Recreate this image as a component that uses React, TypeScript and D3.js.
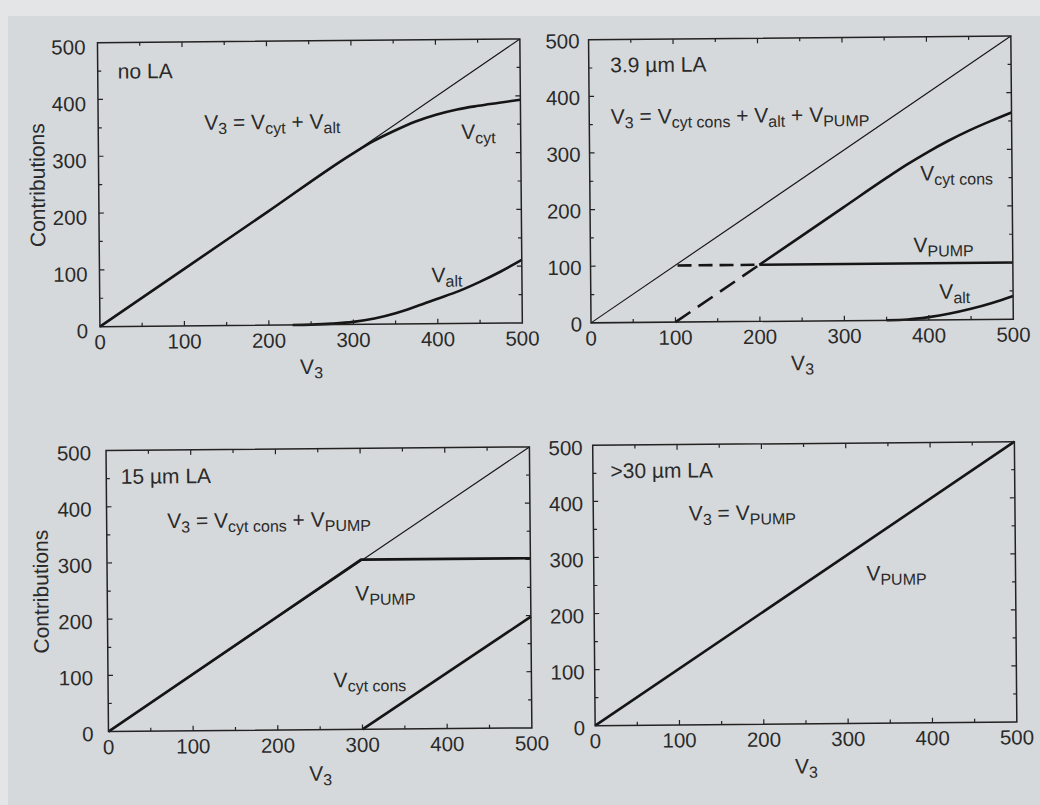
import React from 'react';
import * as d3 from 'd3';

// ---------- data ----------
const DOMAIN: [number, number] = [0, 500];
const MAJOR_TICKS = [0, 100, 200, 300, 400, 500];
const MINOR_TICKS = [50, 150, 250, 350, 450];

// identity reference line V3 = V3 (thin)
const IDENTITY_X = [0, 500];
const IDENTITY_Y = [0, 500];

// Panel A : no LA
const A_VCYT_X = [0, 100, 200, 300, 325, 350, 375, 400, 425, 450, 475, 500];
const A_VCYT_Y = [0, 100, 200, 300, 322, 340, 356, 368, 377, 383, 388, 393];
const A_VALT_X = [228, 250, 275, 300, 325, 350, 375, 400, 425, 450, 475, 500];
const A_VALT_Y = [0, 0.4, 1.8, 4.5, 10, 19, 31, 44, 57, 73, 91, 111];

// Panel B : 3.9 µm LA
const B_VCYT_X = [200, 300, 350, 375, 400, 425, 450, 475, 500];
const B_VCYT_Y = [100, 200, 250, 274, 296, 316, 334, 350, 365];
const B_VPUMP_X = [200, 500];
const B_VPUMP_Y = [100, 100];
const B_DASH_H_X = [103, 200];
const B_DASH_H_Y = [100, 100];
const B_DASH_D_X = [100, 200];
const B_DASH_D_Y = [0, 100];
const B_VALT_X = [350, 375, 400, 425, 450, 475, 500];
const B_VALT_Y = [0, 1, 5, 11, 19, 29, 41];

// Panel C : 15 µm LA
const C_VPUMP_X = [0, 300, 500];
const C_VPUMP_Y = [0, 302, 302];
const C_VCYT_X = [300, 500];
const C_VCYT_Y = [0, 198];

// Panel D : >30 µm LA
const D_VPUMP_X = [0, 500];
const D_VPUMP_Y = [0, 500];

// ---------- styling / layout ----------
const FONT = '"Liberation Sans", Arial, Helvetica, sans-serif';
const TEXT_COLOR = '#2a2a2a';
const LINE_COLOR = '#151515';
const THICK = 2.6;
const THIN = 1.15;
const MAIN_SIZE = 21;
const SUB_SIZE = 16;
const TICK_SIZE = 20.5;

type Series = { x: number[]; y: number[]; w: number; dash?: string; smooth?: boolean };
type Note = { s: string; dx: number; dy: number };
type PanelDef = {
  left: number; right: number; top: number; bottom: number;
  yGap: number; yLabelShift: number; xLabelDy: number;
  showYTitle: boolean; yTitleDx: number;
  series: Series[]; notes: Note[];
};

const PANELS: PanelDef[] = [
  {
    left: 100.6, right: 523, top: 39, bottom: 323, yGap: 12, yLabelShift: 11.5, xLabelDy: 49,
    showYTitle: true, yTitleDx: -54,
    series: [
      { x: IDENTITY_X, y: IDENTITY_Y, w: THIN },
      { x: A_VCYT_X, y: A_VCYT_Y, w: THICK, smooth: true },
      { x: A_VALT_X, y: A_VALT_Y, w: THICK, smooth: true },
    ],
    notes: [
      { s: 'no LA', dx: 20, dy: 36 },
      { s: 'V_{3} = V_{cyt} + V_{alt}', dx: 106, dy: 88 },
      { s: 'V_{cyt}', dx: 363, dy: 99.5 },
      { s: 'V_{alt}', dx: 332, dy: 242.5 },
    ],
  },
  {
    left: 591.7, right: 1014, top: 40.3, bottom: 323.5, yGap: 9, yLabelShift: 8.5, xLabelDy: 49,
    showYTitle: false, yTitleDx: 0,
    series: [
      { x: IDENTITY_X, y: IDENTITY_Y, w: THIN },
      { x: B_VCYT_X, y: B_VCYT_Y, w: THICK, smooth: true },
      { x: B_VPUMP_X, y: B_VPUMP_Y, w: THICK },
      { x: B_DASH_H_X, y: B_DASH_H_Y, w: THICK, dash: '14,7' },
      { x: B_DASH_D_X, y: B_DASH_D_Y, w: THICK, dash: '18,9' },
      { x: B_VALT_X, y: B_VALT_Y, w: THICK, smooth: true },
    ],
    notes: [
      { s: '3.9 µm LA', dx: 21.5, dy: 32.8 },
      { s: 'V_{3} = V_{cyt cons} + V_{alt} + V_{PUMP}', dx: 21.5, dy: 84.3 },
      { s: 'V_{cyt cons}', dx: 330.5, dy: 143.7 },
      { s: 'V_{PUMP}', dx: 323, dy: 215.3 },
      { s: 'V_{alt}', dx: 348.5, dy: 262.2 },
    ],
  },
  {
    left: 105.6, right: 529, top: 447, bottom: 728, yGap: 15, yLabelShift: 9.5, xLabelDy: 51,
    showYTitle: true, yTitleDx: -59,
    series: [
      { x: IDENTITY_X, y: IDENTITY_Y, w: THIN },
      { x: C_VPUMP_X, y: C_VPUMP_Y, w: THICK },
      { x: C_VCYT_X, y: C_VCYT_Y, w: THICK },
    ],
    notes: [
      { s: '15 µm LA', dx: 14.5, dy: 33.3 },
      { s: 'V_{3} = V_{cyt cons} + V_{PUMP}', dx: 60.5, dy: 78 },
      { s: 'V_{PUMP}', dx: 248, dy: 152 },
      { s: 'V_{cyt cons}', dx: 225.5, dy: 238.6 },
    ],
  },
  {
    left: 592.3, right: 1014, top: 446, bottom: 726.3, yGap: 10, yLabelShift: 9.5, xLabelDy: 49.5,
    showYTitle: false, yTitleDx: 0,
    series: [
      { x: D_VPUMP_X, y: D_VPUMP_Y, w: THICK },
    ],
    notes: [
      { s: '>30 µm LA', dx: 17.5, dy: 33 },
      { s: 'V_{3} = V_{PUMP}', dx: 95.5, dy: 76 },
      { s: 'V_{PUMP}', dx: 272.5, dy: 137.5 },
    ],
  },
];

// ---------- rich text with subscripts ----------
type Seg = { text: string; sub: boolean };
function parse(s: string): Seg[] {
  const out: Seg[] = [];
  const re = /_\{([^}]*)\}/g;
  let last = 0;
  let m: RegExpExecArray | null;
  while ((m = re.exec(s))) {
    if (m.index > last) out.push({ text: s.slice(last, m.index), sub: false });
    out.push({ text: m[1], sub: true });
    last = re.lastIndex;
  }
  if (last < s.length) out.push({ text: s.slice(last), sub: false });
  return out;
}

function RichText(props: {
  x: number; y: number; s: string; size?: number; subSize?: number; shift?: number;
  anchor?: string; transform?: string;
}) {
  const { x, y, s, size = MAIN_SIZE, subSize = SUB_SIZE, shift = 4.5, anchor = 'start', transform } = props;
  const segs = parse(s);
  let cur = 0;
  return (
    <text x={x} y={y} fontSize={size} textAnchor={anchor} transform={transform}
      fill={TEXT_COLOR} style={{ whiteSpace: 'pre' }}>
      {segs.map((sg, i) => {
        const dy = (sg.sub ? shift : 0) - cur;
        cur = sg.sub ? shift : 0;
        return (
          <tspan key={i} dy={dy} fontSize={sg.sub ? subSize : size}>{sg.text}</tspan>
        );
      })}
    </text>
  );
}

function Panel({ p }: { p: PanelDef }) {
  const xs = d3.scaleLinear().domain(DOMAIN).range([p.left, p.right]);
  const ys = d3.scaleLinear().domain(DOMAIN).range([p.bottom, p.top]);
  const MAJ = 5;
  const MIN = 3.5;
  const tickLines: JSX.Element[] = [];
  const addTicks = (vals: number[], len: number, key: string) => {
    vals.forEach((v) => {
      const X = xs(v);
      const Y = ys(v);
      tickLines.push(<line key={`${key}b${v}`} x1={X} x2={X} y1={p.bottom} y2={p.bottom - len} />);
      tickLines.push(<line key={`${key}t${v}`} x1={X} x2={X} y1={p.top} y2={p.top + len} />);
      tickLines.push(<line key={`${key}l${v}`} x1={p.left} x2={p.left + len} y1={Y} y2={Y} />);
      tickLines.push(<line key={`${key}r${v}`} x1={p.right} x2={p.right - len} y1={Y} y2={Y} />);
    });
  };
  addTicks(MAJOR_TICKS.slice(1, -1), MAJ, 'M');
  addTicks(MINOR_TICKS, MIN, 'm');

  return (
    <g>
      {p.series.map((s, i) => {
        const gen = d3.line<number>()
          .x((_, k) => xs(s.x[k]))
          .y((_, k) => ys(s.y[k]))
          .curve(s.smooth ? d3.curveMonotoneX : d3.curveLinear);
        return (
          <path key={i} d={gen(s.x.map((_, k) => k)) || ''} fill="none" stroke={LINE_COLOR}
            strokeWidth={s.w} strokeDasharray={s.dash} strokeLinejoin="round" />
        );
      })}
      <g stroke="#222" strokeWidth={1.2}>{tickLines}</g>
      <rect x={p.left} y={p.top} width={p.right - p.left} height={p.bottom - p.top}
        fill="none" stroke="#222" strokeWidth={1.5} />
      {MAJOR_TICKS.map((v) => (
        <text key={`yl${v}`} x={p.left - p.yGap} y={ys(v) + p.yLabelShift} textAnchor="end"
          fontSize={TICK_SIZE} fill={TEXT_COLOR}>{v}</text>
      ))}
      {MAJOR_TICKS.map((v) => (
        <text key={`xl${v}`} x={xs(v)} y={p.bottom + 22.5} textAnchor="middle"
          fontSize={TICK_SIZE} fill={TEXT_COLOR}>{v}</text>
      ))}
      <RichText x={(p.left + p.right) / 2} y={p.bottom + p.xLabelDy} s="V_{3}" anchor="middle" />
      {p.showYTitle && (
        <text transform={`translate(${p.left + p.yTitleDx},${(p.top + p.bottom) / 2}) rotate(-90)`}
          textAnchor="middle" fontSize={MAIN_SIZE} fill={TEXT_COLOR}>Contributions</text>
      )}
      {p.notes.map((n, i) => (
        <RichText key={i} x={p.left + n.dx} y={p.top + n.dy} s={n.s} />
      ))}
    </g>
  );
}

export default function App() {
  return (
    <svg width={1040} height={805} viewBox="0 0 1040 805"
      style={{ position: 'absolute', left: 0, top: 0, fontFamily: FONT }}>
      <rect x={0} y={0} width={1040} height={805} fill="#d6d9db" />
      <rect x={0} y={0} width={1040} height={16} fill="#e3e5e6" />
      <rect x={0} y={0} width={8} height={805} fill="#e3e5e6" />
      <g transform="rotate(-0.5 520 400)">
        {PANELS.map((p, i) => <Panel key={i} p={p} />)}
      </g>
    </svg>
  );
}
